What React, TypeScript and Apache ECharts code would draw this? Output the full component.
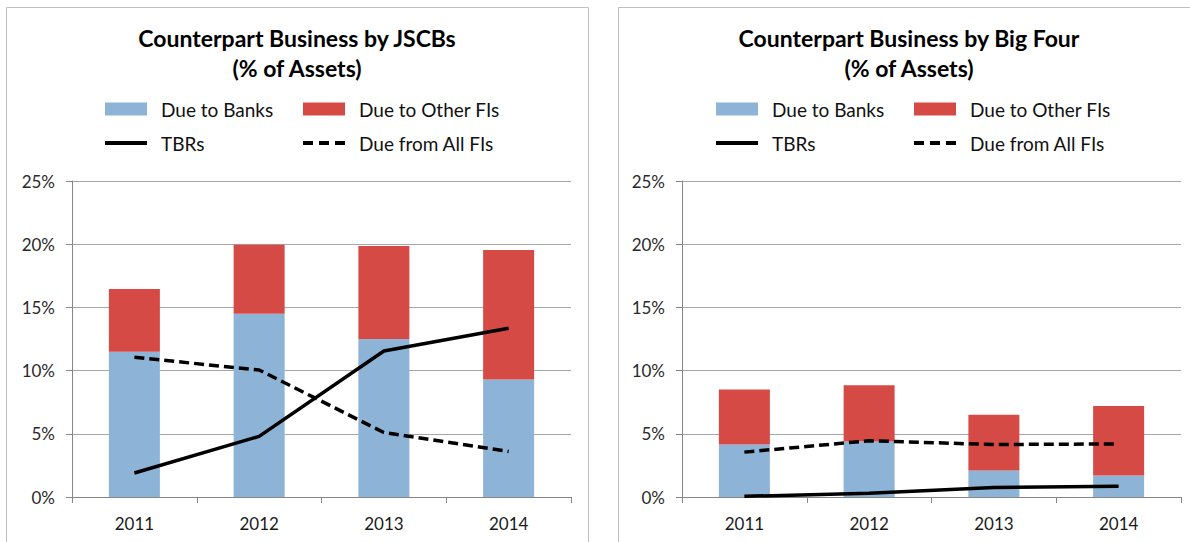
import React, { useEffect, useRef } from "react";
import * as echarts from "echarts";

const years = ["2011", "2012", "2013", "2014"];
const yTicks = [0, 5, 10, 15, 20, 25];

// JSCBs panel (% of assets)
const jscbDueToBanks = [11.5, 14.5, 12.5, 9.3];
const jscbDueToOtherFIs = [4.95, 5.45, 7.35, 10.25];
const jscbTBRs = [1.9, 4.8, 11.55, 13.35];
const jscbDueFromAllFIs = [11.05, 10.05, 5.1, 3.6];

// Big Four panel (% of assets)
const bigDueToBanks = [4.15, 4.4, 2.1, 1.7];
const bigDueToOtherFIs = [4.35, 4.45, 4.4, 5.5];
const bigTBRs = [0.05, 0.3, 0.75, 0.85];
const bigDueFromAllFIs = [3.55, 4.45, 4.15, 4.2];

const titles = [
  ["Counterpart Business by JSCBs", "(% of Assets)"],
  ["Counterpart Business by Big Four", "(% of Assets)"],
];

const FONT = "Lato, 'Open Sans', sans-serif";
const BLUE = "#8DB3D6";
const RED = "#D64A45";

export default function App() {
  const ref = useRef<HTMLDivElement>(null);
  useEffect(() => {
    if (!ref.current) return;
    const chart = echarts.init(ref.current, undefined, { renderer: "svg" });
    const panelOffset = 611;
    const grids = [0, 1].map((i) => ({
      left: 72 + i * panelOffset - (i ? 1 : 0),
      top: 181,
      width: 499,
      height: 316,
    }));
    const xAxes = [0, 1].map((i) => ({
      type: "category",
      gridIndex: i,
      data: years,
      axisLine: { lineStyle: { color: "#868686", width: 1 } },
      axisTick: { show: true, length: 6, lineStyle: { color: "#868686" } },
      axisLabel: { color: "#1a1a1a", fontSize: 17, fontFamily: FONT, margin: 18 },
    }));
    const yAxes = [0, 1].map((i) => ({
      type: "value",
      gridIndex: i,
      min: 0,
      max: 25,
      interval: 5,
      axisLine: { show: true, lineStyle: { color: "#868686", width: 1 } },
      axisTick: { show: true, length: 6, lineStyle: { color: "#868686" } },
      splitLine: { show: true, lineStyle: { color: "#A6A6A6", width: 1 } },
      axisLabel: {
        color: "#2a2a2a",
        fontSize: 17,
        fontFamily: FONT,
        margin: 17,
        formatter: (v: number) => (yTicks.includes(v) ? `${v}%` : ""),
      },
    }));
    const panelData = [
      [jscbDueToBanks, jscbDueToOtherFIs, jscbTBRs, jscbDueFromAllFIs],
      [bigDueToBanks, bigDueToOtherFIs, bigTBRs, bigDueFromAllFIs],
    ];
    const series: any[] = [];
    panelData.forEach((d, i) => {
      series.push(
        {
          name: "Due to Banks",
          type: "bar",
          xAxisIndex: i,
          yAxisIndex: i,
          stack: "s" + i,
          barWidth: 51,
          itemStyle: { color: BLUE },
          data: d[0],
        },
        {
          name: "Due to Other FIs",
          type: "bar",
          xAxisIndex: i,
          yAxisIndex: i,
          stack: "s" + i,
          barWidth: 51,
          itemStyle: { color: RED },
          data: d[1],
        },
        {
          name: "TBRs",
          type: "line",
          xAxisIndex: i,
          yAxisIndex: i,
          symbol: "none",
          lineStyle: { color: "#000", width: 3.5 },
          itemStyle: { color: "#000" },
          data: d[2],
        },
        {
          name: "Due from All FIs",
          type: "line",
          xAxisIndex: i,
          yAxisIndex: i,
          symbol: "none",
          lineStyle: { color: "#000", width: 3.5, type: [10, 5] },
          itemStyle: { color: "#000" },
          data: d[3],
        }
      );
    });
    const legendItems = [
      { name: "Due to Banks", x: 105, y: 109, icon: "rect", h: 13 },
      { name: "Due to Other FIs", x: 303, y: 109, icon: "rect", h: 13 },
      { name: "TBRs", x: 105, y: 143, icon: "rect", h: 4 },
      {
        name: "Due from All FIs",
        x: 303,
        y: 143,
        icon: "path://M0,0H10V4H0Z M16,0H26V4H16Z M32,0H42V4H32Z",
        h: 4,
      },
    ];
    const legends: any[] = [];
    [0, 1].forEach((i) => {
      legendItems.forEach((it) => {
        legends.push({
          left: it.x + i * panelOffset,
          top: it.y - 12,
          height: 24,
          itemWidth: 42,
          itemHeight: it.h,
          padding: 0,
          selectedMode: false,
          data: [{ name: it.name, icon: it.icon }],
          textStyle: {
            fontFamily: FONT,
            fontSize: 19,
            color: "#111",
            padding: [0, 0, 0, 9],
            lineHeight: 24,
          },
        });
      });
    });
    const graphics: any[] = [];
    [0, 1].forEach((i) => {
      const x0 = 6 + i * 612;
      graphics.push({
        type: "rect",
        shape: { x: x0 + 0.5, y: 7.5, width: 582, height: 560 },
        style: { fill: "none", stroke: "#BFBFBF", lineWidth: 1 },
        silent: true,
        z: -1,
      });
      titles[i].forEach((t, k) => {
        graphics.push({
          type: "text",
          x: x0 + 291,
          y: 38 + k * 30,
          style: {
            text: t,
            align: "center",
            verticalAlign: "middle",
            font: `bold 23px ${FONT}`,
            fill: "#000",
          },
        });
      });
    });
    chart.setOption({
      animation: false,
      backgroundColor: "#fff",
      grid: grids,
      xAxis: xAxes,
      yAxis: yAxes,
      legend: legends,
      series,
      graphic: graphics,
    });
    return () => chart.dispose();
  }, []);
  return (
    <div
      ref={ref}
      style={{ position: "absolute", left: 0, top: 0, width: 1190, height: 542 }}
    />
  );
}
